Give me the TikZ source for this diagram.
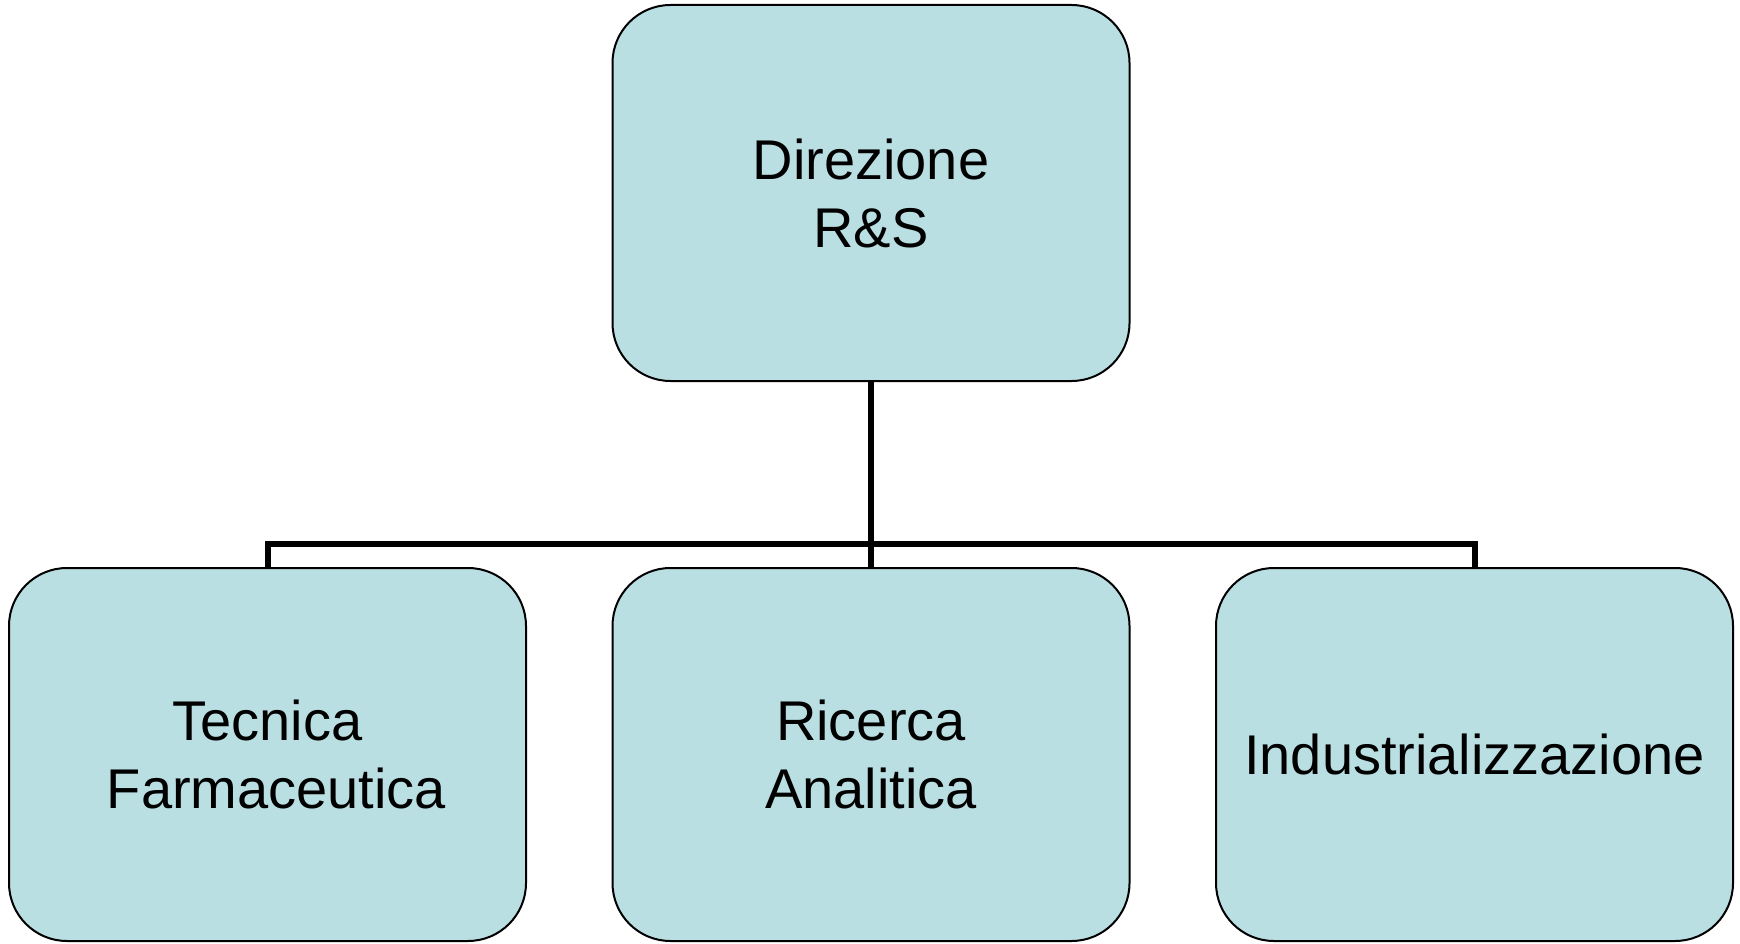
\documentclass[tikz,border=0pt]{standalone}
\usepackage{fontspec}
\setmainfont{Liberation Sans}
\definecolor{boxfill}{RGB}{186,223,227}
\begin{document}
\begin{tikzpicture}[x=1pt,y=1pt,
  orgbox/.style={draw=black, line width=2pt, fill=boxfill, rounded corners=58pt,
    minimum width=517pt, inner sep=0pt, align=center,
    font=\fontsize{56}{68}\selectfont},
  conn/.style={draw=black, line width=6pt, line join=miter}]
\useasboundingbox (0,0) rectangle (1740,-944);
\node[orgbox, minimum height=376pt] (top) at (871,-193) {Direzione\\R\&S};
\node[orgbox, minimum height=373pt] (left) at (267.5,-754.5) {Tecnica\\\hspace*{18pt}Farmaceutica};
\node[orgbox, minimum height=373pt] (mid) at (871,-754.5) {Ricerca\\Analitica};
\node[orgbox, minimum height=373pt] (right) at (1474.5,-754.5) {Industrializzazione};
\coordinate (bus) at (871,-544);
\draw[conn] (top.south) -- (bus);
\draw[conn] (left.north) |- (bus) -| (right.north);
\draw[conn] (bus) -- (mid.north);
\end{tikzpicture}
\end{document}
